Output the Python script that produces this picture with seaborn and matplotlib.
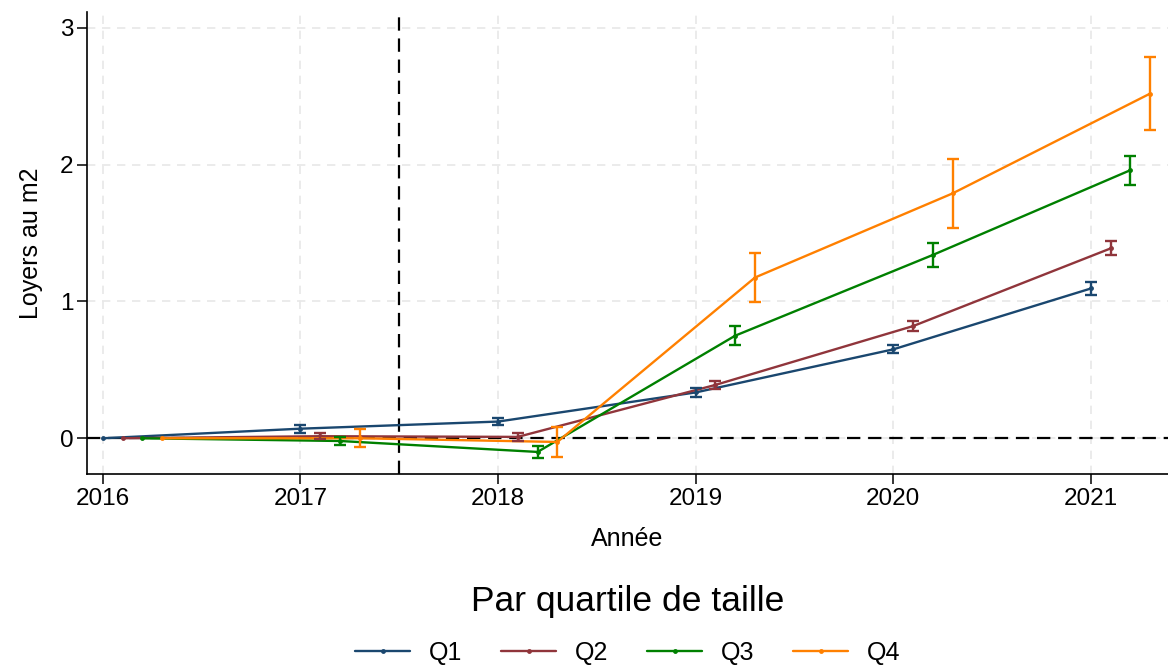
import numpy as np
import pandas as pd
import matplotlib
matplotlib.use("Agg")
import matplotlib.pyplot as plt
import seaborn as sns

# Event-study estimates by size quartile (rent per m2)
years = [2016, 2017, 2018, 2019, 2020, 2021]
quartiles = ["Q1", "Q2", "Q3", "Q4"]
q1_coef = [0.0, 0.07, 0.122, 0.335, 0.65, 1.095]
q2_coef = [0.0, 0.015, 0.01, 0.39, 0.82, 1.388]
q3_coef = [0.0, -0.02, -0.10, 0.75, 1.34, 1.96]
q4_coef = [0.0, 0.0, -0.027, 1.175, 1.79, 2.52]
q1_err = [0.0, 0.03, 0.028, 0.03, 0.03, 0.05]
q2_err = [0.0, 0.02, 0.03, 0.03, 0.037, 0.051]
q3_err = [0.0, 0.03, 0.043, 0.068, 0.085, 0.105]
q4_err = [0.0, 0.065, 0.11, 0.177, 0.25, 0.27]
offsets = [0.0, 0.1, 0.2, 0.3]
colors = ["#1a476f", "#90353b", "#008000", "#ff8000"]

coefs = [q1_coef, q2_coef, q3_coef, q4_coef]
errs = [q1_err, q2_err, q3_err, q4_err]

rows = []
for q, off, c, e in zip(quartiles, offsets, coefs, errs):
    for yr, v, se in zip(years, c, e):
        rows.append({"annee": yr + off, "coef": v, "err": se, "quartile": q})
df = pd.DataFrame(rows)

sns.set_theme(style="white")
plt.rcParams["font.family"] = ["Liberation Sans", "DejaVu Sans"]
plt.rcParams["text.color"] = "black"
plt.rcParams["axes.labelcolor"] = "black"
plt.rcParams["xtick.color"] = "black"
plt.rcParams["ytick.color"] = "black"

fig = plt.figure(figsize=(11.68, 6.67), dpi=100)
ax = fig.add_axes([0.0745, 0.289, 0.9255, 0.693])

sns.lineplot(data=df, x="annee", y="coef", hue="quartile",
             palette=colors, marker="o", markersize=3.5, markeredgewidth=0,
             linewidth=1.7, ax=ax, legend=True)

for (q, sub), col in zip(df.groupby("quartile", sort=False), colors):
    mask = sub["err"] > 0
    ax.errorbar(sub["annee"][mask], sub["coef"][mask], yerr=sub["err"][mask],
                fmt="none", ecolor=col, elinewidth=1.7, capsize=4,
                capthick=1.7, zorder=3)

ax.axhline(0, color="black", linestyle=(0, (6, 3.5)), linewidth=1.6, zorder=1)
ax.axvline(2017.5, color="black", linestyle=(0, (6, 3.5)), linewidth=1.6, zorder=1)

ax.set_xlim(2015.92, 2021.39)
ax.set_ylim(-0.263, 3.116)
ax.set_xticks(years)
ax.set_yticks([0, 1, 2, 3])
ax.grid(True, color="#e8e8e8", linestyle=(0, (5, 4)), linewidth=1.2)
ax.set_axisbelow(True)

for s in ["top", "right"]:
    ax.spines[s].set_visible(False)
for s in ["left", "bottom"]:
    ax.spines[s].set_color("black")
    ax.spines[s].set_linewidth(1.2)

ax.tick_params(axis="both", which="both", direction="out", length=7,
               width=1.1, color="black", labelsize=17.5, pad=3,
               bottom=True, left=True)
ax.set_xlabel("Année", fontsize=18, labelpad=12)
ax.set_ylabel("Loyers au m2", fontsize=18, labelpad=12)

handles, labels = ax.get_legend_handles_labels()
ax.get_legend().remove()
leg = fig.legend(handles, labels, loc="lower center", ncol=4,
                 bbox_to_anchor=(0.5375, -0.031), frameon=False,
                 title="Par quartile de taille", fontsize=18,
                 title_fontsize=25.5, handlelength=2.2, columnspacing=1.55,
                 handletextpad=0.75)
leg._legend_box.sep = 17

fig.savefig("out.png", dpi=100)
